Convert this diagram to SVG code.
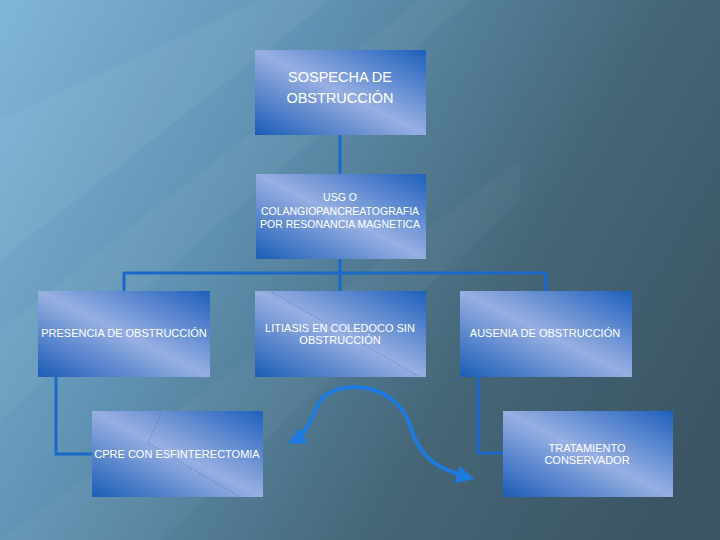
<svg xmlns="http://www.w3.org/2000/svg" width="720" height="540" viewBox="0 0 720 540">
<defs>
<linearGradient id="bg" x1="0" y1="0" x2="720" y2="400" gradientUnits="userSpaceOnUse">
<stop offset="0" stop-color="#80b6da"/>
<stop offset="0.35" stop-color="#5f92b2"/>
<stop offset="0.7" stop-color="#466779"/>
<stop offset="1" stop-color="#3b5565"/>
</linearGradient>
<linearGradient id="box" x1="0" y1="1" x2="1" y2="0">
<stop offset="0" stop-color="#1a5cb6"/>
<stop offset="0.5" stop-color="#98afe2"/>
<stop offset="1" stop-color="#1e60bc"/>
</linearGradient>
<marker id="ah" viewBox="0 0 10 10" refX="8" refY="5" markerWidth="4.5" markerHeight="4.5" orient="auto-start-reverse">
<path d="M0,0 L10,5 L0,10 z" fill="#1f7ae0"/>
</marker>
<style>
.box{fill:url(#box);}
.t{fill:#ffffff;font-family:"Liberation Sans",Arial,sans-serif;text-anchor:middle;}
.c{fill:none;stroke:#1a68c8;stroke-width:3;}
.deco{fill:none;stroke:#3a5a8a;stroke-width:1;stroke-dasharray:1 2;opacity:0.7;}
</style>
</defs>
<rect width="720" height="540" fill="url(#bg)"/>
<polygon points="0,120 260,0 330,0 0,260" fill="#ffffff" opacity="0.05"/>
<polygon points="0,330 420,0 470,0 0,420" fill="#ffffff" opacity="0.04"/>
<polygon points="0,540 160,540 520,200 520,160" fill="#ffffff" opacity="0.03"/>

<g id="connectors">
<line class="c" x1="340" y1="135" x2="340" y2="174"/>
<polyline class="c" points="124,291 124,273 546,273 546,291"/>
<line class="c" x1="340" y1="259" x2="340" y2="291"/>
<polyline class="c" points="56,377 56,454 92,454"/>
<polyline class="c" points="478,377 478,453 503,453"/>
<path d="M291,442 C315,430 312,405 325,396 C345,380 395,383 410,425 C420,460 440,470 471,478" fill="none" stroke="#1f7ae0" stroke-width="4" marker-start="url(#ah)" marker-end="url(#ah)"/>
</g>

<g id="n1">
<rect class="box" x="255" y="50" width="171" height="85"/>
<text class="t" font-size="14.5" x="340" y="82">SOSPECHA DE</text>
<text class="t" font-size="14.5" x="340" y="103">OBSTRUCCIÓN</text>
</g>
<g id="n2">
<rect class="box" x="256" y="174" width="170" height="85"/>
<text class="t" font-size="10.5" x="340" y="201">USG O</text>
<text class="t" font-size="10.5" x="340" y="215">COLANGIOPANCREATOGRAFIA</text>
<text class="t" font-size="10.5" x="340" y="228">POR RESONANCIA MAGNETICA</text>
</g>
<g id="n3">
<rect class="box" x="38" y="291" width="172" height="86"/>
<text class="t" font-size="11" x="124" y="337">PRESENCIA DE OBSTRUCCIÓN</text>
</g>
<g id="n4">
<rect class="box" x="255" y="291" width="171" height="86"/>
<polyline class="deco" points="272,292 420,377"/>
<text class="t" font-size="11" x="340" y="332">LITIASIS EN COLEDOCO SIN</text>
<text class="t" font-size="11" x="340" y="344">OBSTRUCCIÓN</text>
</g>
<g id="n5">
<rect class="box" x="460" y="291" width="172" height="86"/>
<text class="t" font-size="11" x="545" y="337">AUSENIA DE OBSTRUCCIÓN</text>
</g>
<g id="n6">
<rect class="box" x="92" y="411" width="171" height="86"/>
<polyline class="deco" points="162,412 148,443 240,497"/>
<text class="t" font-size="11" x="177" y="458">CPRE CON ESFINTERECTOMIA</text>
</g>
<g id="n7">
<rect class="box" x="503" y="411" width="170" height="86"/>
<text class="t" font-size="11" x="587" y="452">TRATAMIENTO</text>
<text class="t" font-size="11" x="587" y="464">CONSERVADOR</text>
</g>
</svg>
